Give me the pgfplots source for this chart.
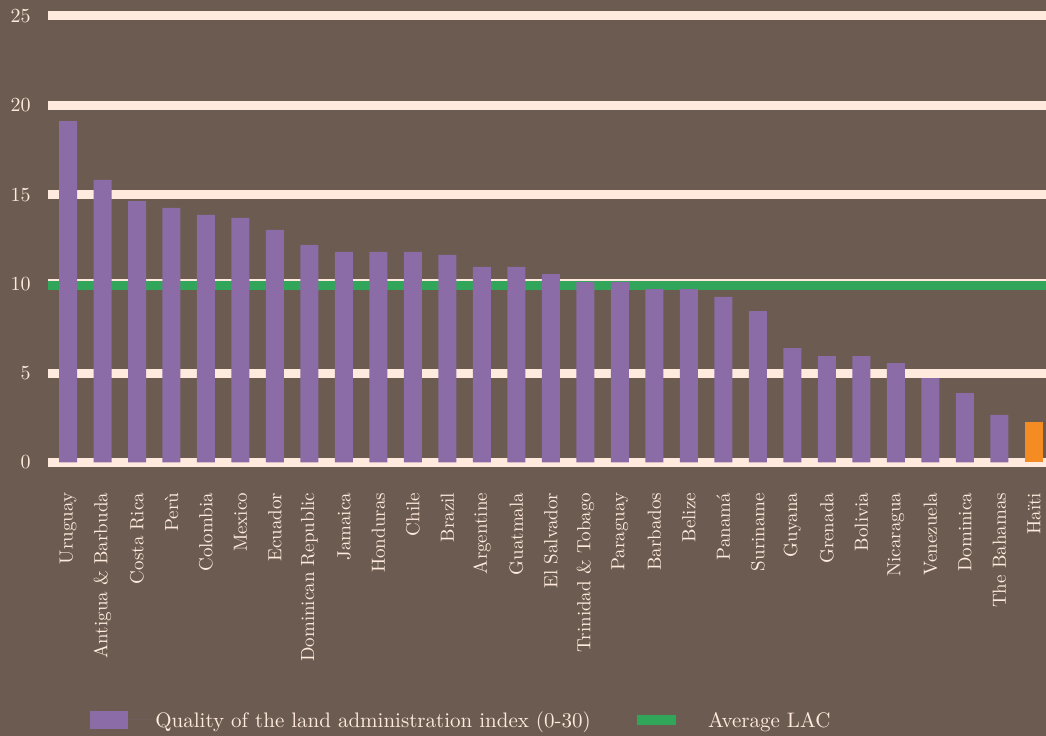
\documentclass[border=0pt]{standalone}
\usepackage{pgfplots}
\pgfplotsset{compat=1.18}
\usetikzlibrary{backgrounds}
\definecolor{bg}{HTML}{6B5B50}
\definecolor{cream}{HTML}{FFEADD}
\definecolor{barpurple}{HTML}{8B6CA6}
\definecolor{avggreen}{HTML}{31A65A}
\definecolor{haiti}{HTML}{F48B23}
\begin{document}
\begin{tikzpicture}[background rectangle/.style={fill=bg}, show background rectangle, inner frame sep=0pt]
\begin{axis}[
  name=ax,
  scale only axis,
  width=499pt, height=223.25pt,
  xmin=-0.58, xmax=28.35,
  ymin=0, ymax=25,
  clip=false,
  axis line style={draw=none},
  tick style={draw=none},
  xtick pos=bottom, ytick pos=left,
  ytick={0,5,10,15,20,25},
  xtick={0,...,28},
  xticklabels={Uruguay,Antigua \& Barbuda,Costa Rica,Perù,Colombia,Mexico,Ecuador,Dominican Republic,Jamaica,Honduras,Chile,Brazil,Argentine,Guatmala,El Salvador,Trinidad \& Tobago,Paraguay,Barbados,Belize,Panamá,Suriname,Guyana,Grenada,Bolivia,Nicaragua,Venezuela,Dominica,The Bahamas,Haïti},
  major tick length=0pt,
  ymajorgrids,
  major grid style={line width=4.5pt, color=cream},
  tick label style={text=cream},
  yticklabel style={font=\fontsize{10}{12}\selectfont, inner sep=0pt, anchor=east},
  yticklabel shift=8.5pt,
  xticklabel style={font=\fontsize{9.5}{11}\selectfont, rotate=90, anchor=east, inner sep=0pt},
  xticklabel shift=15pt,
  legend columns=2,
  legend style={at={(0,0)}, anchor=west, xshift=18pt, yshift=-128.75pt, draw=none, fill=none,
    text=cream, font=\fontsize{10.5}{12}\selectfont,
    /tikz/every even column/.append style={column sep=23pt},
    nodes={inner sep=0pt, text depth=0pt}},
]
\addplot[avggreen, line width=4.5pt, forget plot] coordinates {(-0.58,9.91) (28.35,9.91)};
\addplot[ybar, bar width=9pt, fill=barpurple, draw=none,
  legend image code/.code={\fill[barpurple] (0pt,-4.5pt) rectangle (19pt,4.5pt); \path[draw=none] (19pt,0) -- (32.5pt,0);}]
  coordinates {
  (0,19.12) (1,15.82) (2,14.64) (3,14.25) (4,13.86) (5,13.69) (6,13.02) (7,12.18)
  (8,11.79) (9,11.79) (10,11.79) (11,11.62) (12,10.95) (13,10.95) (14,10.55)
  (15,10.10) (16,10.10) (17,9.71) (18,9.71) (19,9.27) (20,8.48) (21,6.41)
  (22,5.96) (23,5.96) (24,5.57) (25,4.73) (26,3.89) (27,2.66)};
\addlegendentry{Quality of the land administration index (0-30)}
\addplot[ybar, bar width=9pt, fill=haiti, draw=none, forget plot] coordinates {(28,2.27)};
\addlegendimage{legend image code/.code={\fill[avggreen] (0pt,-2.25pt) rectangle (19pt,2.25pt); \path[draw=none] (19pt,0) -- (35.5pt,0);}}
\addlegendentry{Average LAC}
\end{axis}
\pgfresetboundingbox
\path[use as bounding box] ([xshift=-24pt,yshift=-136.75pt]ax.south west) rectangle ([yshift=8pt]ax.north east);
\end{tikzpicture}
\end{document}
